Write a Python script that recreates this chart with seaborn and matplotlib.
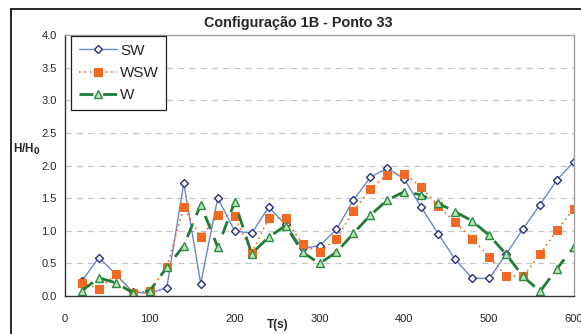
import numpy as np
import pandas as pd
import matplotlib
matplotlib.use("Agg")
import matplotlib.pyplot as plt
from matplotlib.lines import Line2D
import seaborn as sns

# Period (s) and relative wave height for each incident direction
periods = [20, 40, 60, 80, 100, 120, 140, 160, 180, 200,
           220, 240, 260, 280, 300, 320, 340, 360, 380, 400,
           420, 440, 460, 480, 500, 520, 540, 560, 580, 600]
sw = [0.23, 0.59, 0.33, 0.06, 0.04, 0.13, 1.73, 0.19, 1.50, 1.00,
      0.96, 1.36, 1.10, 0.73, 0.77, 1.02, 1.47, 1.82, 1.96, 1.79,
      1.36, 0.95, 0.56, 0.27, 0.27, 0.64, 1.03, 1.40, 1.78, 2.06]
wsw = [0.20, 0.11, 0.33, 0.05, 0.07, 0.44, 1.36, 0.90, 1.24, 1.22,
       0.66, 1.19, 1.19, 0.79, 0.67, 0.88, 1.30, 1.64, 1.86, 1.87,
       1.67, 1.38, 1.13, 0.88, 0.60, 0.31, 0.30, 0.64, 1.01, 1.34]
w = [0.08, 0.28, 0.20, 0.05, 0.08, 0.44, 0.77, 1.40, 0.75, 1.44,
     0.65, 0.90, 1.08, 0.67, 0.50, 0.67, 0.96, 1.24, 1.47, 1.60,
     1.55, 1.42, 1.29, 1.15, 0.93, 0.64, 0.30, 0.07, 0.42, 0.75]

x_ticks = [0, 100, 200, 300, 400, 500, 600]
y_ticks = [0.0, 0.5, 1.0, 1.5, 2.0, 2.5, 3.0, 3.5, 4.0]

df = pd.DataFrame({"T": periods, "SW": sw, "WSW": wsw, "W": w})

sns.set_style("white")
plt.rcParams["font.family"] = ["Liberation Sans", "DejaVu Sans"]

W_PX, H_PX = 581, 334
fig = plt.figure(figsize=(W_PX / 100, H_PX / 100), dpi=100)
ax = fig.add_axes([65 / W_PX, 1 - 296 / H_PX, (574 - 65) / W_PX, (296 - 35) / H_PX])

# Dashed horizontal grid
for yv in y_ticks[1:-1]:
    ax.axhline(yv, color="#c8c8c8", lw=0.9, ls=(0, (5, 4)), zorder=0)

sns.lineplot(data=df, x="T", y="SW", ax=ax, color="#6b86cc", lw=1.0,
             marker="D", markersize=4.5, markerfacecolor="white",
             markeredgecolor="#28307e", markeredgewidth=1.0, label="SW")
sns.lineplot(data=df, x="T", y="WSW", ax=ax, color="#f26a22", lw=1.2,
             linestyle=(0, (1, 2.2)), marker="s", markersize=5.5,
             markerfacecolor="#f26a22", markeredgecolor="#f26a22", label="WSW")
sns.lineplot(data=df, x="T", y="W", ax=ax, color="#1e7c36", lw=2.0,
             linestyle=(0, (5, 3.5)), marker="^", markersize=6,
             markerfacecolor="#bfe3b8", markeredgecolor="#2c8c40",
             markeredgewidth=1.0, label="W")

ax.set_xlim(0, 600)
ax.set_ylim(0, 4.0)
ax.set_xticks(x_ticks)
ax.set_yticks(y_ticks)
ax.set_yticklabels([f"{v:.1f}" for v in y_ticks])
ax.tick_params(axis="both", labelsize=8, length=4, width=0.8, color="#444444",
               direction="out", pad=2)
ax.tick_params(axis="x", pad=9)
ax.set_xlabel("")
ax.set_ylabel("")

for side in ["left", "bottom"]:
    ax.spines[side].set_color("#333333")
    ax.spines[side].set_linewidth(1.0)
for side in ["top", "right"]:
    ax.spines[side].set_color("#a0a0a0")
    ax.spines[side].set_linewidth(1.0)

leg = ax.legend(loc="upper left", bbox_to_anchor=(0.0118, 0.996), fontsize=11,
                frameon=True, fancybox=False, edgecolor="#222222",
                framealpha=1, handlelength=2.5, handletextpad=0.2,
                borderpad=0.5, labelspacing=0.55, borderaxespad=0.0,
                numpoints=1)
leg.get_frame().set_linewidth(0.9)

fig.text(298 / W_PX, 1 - 23 / H_PX, "Configuração 1B - Ponto 33",
         ha="center", va="center", fontsize=10.4, fontweight="bold")
fig.text(13 / W_PX, 1 - 149 / H_PX, r"H/H$_\mathbf{0}$", ha="left",
         va="center", fontsize=8.5, fontweight="bold")
fig.text(278 / W_PX, 1 - 325 / H_PX, "T(s)", ha="center", va="center",
         fontsize=8.5, fontweight="bold")

# Outer chart frame
fig.add_artist(Line2D([11 / W_PX, 1.0], [1 - 9 / H_PX, 1 - 9 / H_PX],
                      transform=fig.transFigure, color="black", lw=1.2))
fig.add_artist(Line2D([11 / W_PX, 11 / W_PX], [0.0, 1 - 9 / H_PX],
                      transform=fig.transFigure, color="black", lw=1.2))

fig.savefig("out.png", dpi=100)
